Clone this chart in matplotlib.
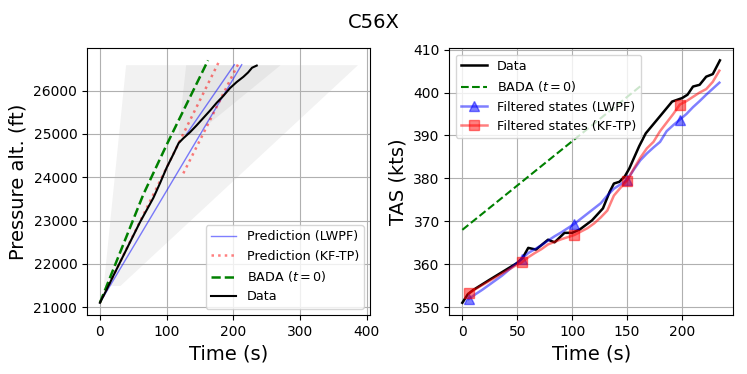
import numpy as np
import matplotlib
matplotlib.use("Agg")
import matplotlib.pyplot as plt

# 高度剖面数据 (左图)
alt_t = [0, 10, 20, 30, 40, 50, 60, 70, 80, 90, 100, 110, 118, 125, 135, 145,
         155, 165, 175, 185, 195, 205, 215, 222, 228, 235]
alt_ft = [21100, 21400, 21720, 22030, 22340, 22650, 22960, 23240, 23520, 23860,
          24220, 24530, 24790, 24900, 25040, 25200, 25370, 25540, 25720, 25880,
          26060, 26200, 26320, 26420, 26530, 26580]

# 预测线 (LWPF / KF-TP / BADA)
lwpf_pred_t = [[0, 212.5], [130, 201.5]]
lwpf_pred_alt = [[21100, 26600], [25000, 26600]]
kftp_pred_t = [[0, 179], [125, 208]]
kftp_pred_alt = [[21100, 26690], [24090, 26640]]
bada_alt_t = [0, 65, 100, 135, 162]
bada_alt_ft = [21100, 23600, 24750, 25850, 26700]

# 预测不确定区域
cone1_alt = [21500, 26600]
cone1_lo = [5, 38.5]
cone1_hi = [30, 386]
cone2_alt = [25000, 26600]
cone2_lo = [117, 128.5]
cone2_hi = [143, 270]

# 真空速数据 (右图)
tas_t = [0, 5, 10, 25, 50, 55, 60, 67, 78, 84, 93, 100, 107, 118, 128, 134, 138,
         143, 148, 152, 161, 167, 180, 191, 200, 205, 210, 216, 222, 228, 234.5]
tas_kts = [351.0, 353.0, 354.0, 356.4, 360.3, 361.5, 363.8, 363.4, 365.7, 365.1,
           367.3, 367.3, 368.1, 370.2, 373.0, 376.8, 378.8, 379.2, 380.5, 382.3,
           387.5, 390.5, 394.5, 397.9, 398.7, 399.5, 401.4, 401.8, 403.7, 404.3,
           407.5]
bada_tas_t = [0, 162.7]
bada_tas_kts = [368.0, 401.6]

filt_t = np.arange(6, 235, 6)
lwpf_tas = [351.9, 353.0, 354.0, 355.1, 356.2, 357.3, 358.6, 359.9, 361.2, 362.6,
            363.5, 364.4, 365.5, 366.5, 367.4, 368.4, 369.4, 370.6, 371.8, 373.0,
            374.2, 376.0, 377.6, 378.6, 379.6, 382.0, 384.2, 385.8, 387.2, 388.5,
            391.0, 392.4, 393.7, 395.0, 396.6, 398.0, 399.5, 400.9, 402.3]
kftp_tas = [353.2, 354.2, 355.1, 356.0, 356.9, 357.8, 358.7, 359.6, 360.4, 361.6,
            362.6, 363.5, 364.6, 365.2, 365.8, 366.3, 366.8, 367.6, 368.4, 369.5,
            370.9, 372.5, 376.0, 377.8, 379.5, 382.2, 384.8, 387.0, 388.5, 391.0,
            393.0, 395.0, 397.2, 398.0, 399.0, 400.0, 400.8, 402.5, 405.1]

plt.rcParams['font.size'] = 10

fig, (ax1, ax2) = plt.subplots(1, 2, figsize=(7.47, 3.74), dpi=100)
fig.subplots_adjust(left=0.1165, right=0.981, bottom=0.158, top=0.871, wspace=0.279)
fig.suptitle("C56X", fontsize=14, y=0.965)

# 左图: 气压高度
ax1.fill_betweenx(cone1_alt, cone1_lo, cone1_hi, color='grey', alpha=0.1, lw=0)
ax1.fill_betweenx(cone2_alt, cone2_lo, cone2_hi, color='grey', alpha=0.1, lw=0)
for i in range(len(lwpf_pred_t)):
    ax1.plot(lwpf_pred_t[i], lwpf_pred_alt[i], 'b-', alpha=0.5, lw=1,
             label='Prediction (LWPF)' if i == 0 else None)
for i in range(len(kftp_pred_t)):
    ax1.plot(kftp_pred_t[i], kftp_pred_alt[i], 'r:', alpha=0.5, lw=1.8,
             label='Prediction (KF-TP)' if i == 0 else None)
ax1.plot(bada_alt_t, bada_alt_ft, 'g--', lw=1.8, label='BADA ($t=0$)')
ax1.plot(alt_t, alt_ft, 'k-', lw=1.5, label='Data')
ax1.set_xlabel('Time (s)', fontsize=14)
ax1.set_ylabel('Pressure alt. (ft)', fontsize=14)
ax1.set_xticks([0, 100, 200, 300, 400])
ax1.set_yticks([21000, 22000, 23000, 24000, 25000, 26000])
ax1.grid(True)
ax1.legend(loc='lower right', fontsize=9.2)

# 右图: 真空速
ax2.plot(tas_t, tas_kts, 'k-', lw=1.8, label='Data')
ax2.plot(bada_tas_t, bada_tas_kts, 'g--', lw=1.5, label='BADA ($t=0$)')
ax2.plot(filt_t, lwpf_tas, 'b-', marker='^', markevery=8, ms=7.5, lw=1.8, alpha=0.5,
         label='Filtered states (LWPF)')
ax2.plot(filt_t, kftp_tas, 'r-', marker='s', markevery=8, ms=7.5, lw=1.8, alpha=0.5,
         label='Filtered states (KF-TP)')
ax2.set_xlabel('Time (s)', fontsize=14)
ax2.set_ylabel('TAS (kts)', fontsize=14)
ax2.grid(True)
ax2.legend(loc='upper left', fontsize=9.2)

fig.savefig('out.png', dpi=100)
